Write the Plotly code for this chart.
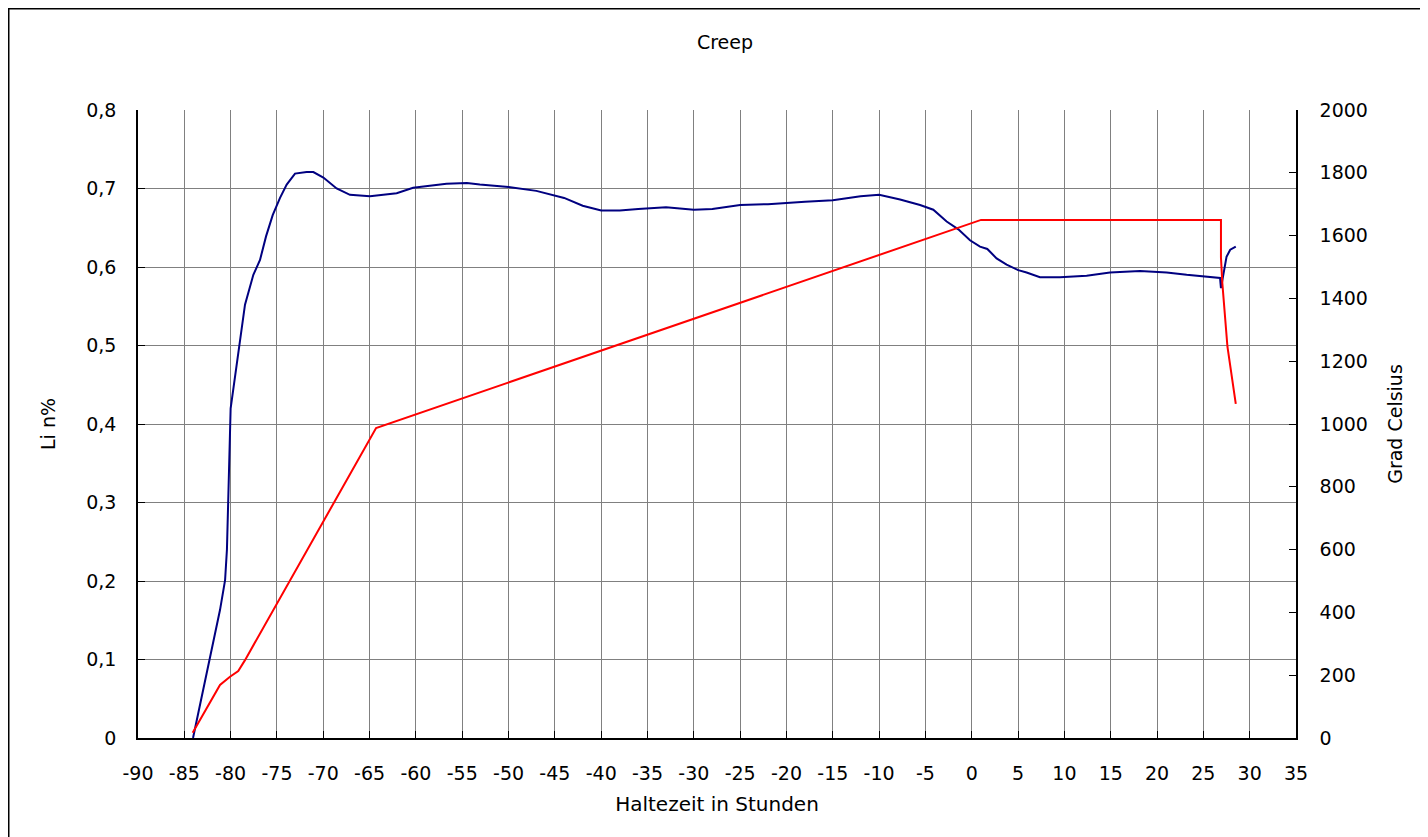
import plotly.graph_objects as go

# Blue series: Li n% vs Haltezeit
li_x = [-84.06, -81.15, -80.6, -80.4, -80.0, -79.4, -79.07, -78.45, -77.55, -76.83, -76.18,
        -75.46, -74.67, -73.95, -73.05, -71.8, -71.07, -69.99, -68.56, -67.12, -64.96,
        -62.08, -60.3, -56.7, -54.5, -53.1, -50.0, -47.0, -44.0, -42.0, -40.0, -38.0,
        -36.0, -33.0, -30.0, -28.0, -25.0, -22.0, -18.0, -15.0, -12.0, -10.0, -7.74,
        -5.58, -4.15, -2.71, -1.45, -0.19, 0.89, 1.68, 2.68, 3.76, 5.02, 5.92, 7.36,
        9.52, 12.4, 14.92, 18.16, 21.04, 23.2, 25.7, 26.8, 26.9, 27.15, 27.5, 27.9, 28.4, 28.5]
li_y = [0.0, 0.163, 0.201, 0.24, 0.42, 0.47, 0.496, 0.552, 0.590, 0.609, 0.639,
        0.666, 0.688, 0.705, 0.719, 0.721, 0.721, 0.714, 0.700, 0.692, 0.690,
        0.694, 0.701, 0.706, 0.707, 0.705, 0.702, 0.697, 0.688, 0.678, 0.672, 0.672,
        0.674, 0.676, 0.673, 0.674, 0.679, 0.680, 0.683, 0.685, 0.690, 0.692, 0.686,
        0.679, 0.673, 0.658, 0.648, 0.634, 0.626, 0.623, 0.611, 0.603, 0.596, 0.593, 0.587,
        0.587, 0.589, 0.593, 0.595, 0.593, 0.590, 0.587, 0.586, 0.573, 0.592, 0.613, 0.622, 0.625, 0.626]

# Red series: Grad Celsius vs Haltezeit
temp_x = [-84.1, -81.15, -80.07, -79.18, -78.45, -64.3, 1.0, 26.9, 26.9, 27.05, 27.6, 28.15, 28.5]
temp_y = [17, 169, 195, 213, 248, 987, 1650, 1650, 1530, 1448, 1246, 1135, 1064]

x_ticks = list(range(-90, 36, 5))
x_tick_labels = [str(v) for v in x_ticks]
font_family = "DejaVu Sans, Verdana, sans-serif"

W, H = 1420, 829
ML, MT, PW, PH = 130, 102, 1158, 628

fig = go.Figure()
fig.add_trace(go.Scatter(x=li_x, y=li_y, mode="lines", name="Li n%",
                         line=dict(color="#000080", width=2)))
fig.add_trace(go.Scatter(x=temp_x, y=temp_y, mode="lines", name="Grad Celsius",
                         yaxis="y2", line=dict(color="#FF0000", width=2)))

fig.update_layout(
    width=W, height=H,
    margin=dict(l=ML, r=W - ML - PW, t=MT, b=H - MT - PH, pad=0),
    paper_bgcolor="white", plot_bgcolor="white",
    separators=", ",
    showlegend=False,
    font=dict(family=font_family, color="black", size=19),
    title=dict(text="Creep", x=717 / W, xanchor="center", y=1 - 34 / H,
               yanchor="middle", font=dict(size=19, color="black")),
    xaxis=dict(range=[-90, 35], tickvals=x_ticks, ticktext=x_tick_labels,
               showgrid=True, gridcolor="#808080",
               gridwidth=1, showline=True, linecolor="black", linewidth=1.5,
               ticks="inside", ticklen=7, tickcolor="black", tickfont=dict(size=19),
               ticklabelstandoff=17, zeroline=False,
               title=dict(text="Haltezeit in Stunden", font=dict(size=20), standoff=14)),
    yaxis=dict(range=[0, 0.8], dtick=0.1, tick0=0, showgrid=True, gridcolor="#808080",
               gridwidth=1, showline=True, linecolor="black", linewidth=1.5,
               ticks="inside", ticklen=7, tickcolor="black", tickfont=dict(size=19),
               ticklabelstandoff=16, zeroline=False,
               title=dict(text="Li n%", font=dict(size=19), standoff=26)),
    yaxis2=dict(range=[0, 2000], dtick=200, tick0=0, overlaying="y", side="right",
                showgrid=False, showline=True, linecolor="black", linewidth=1.5,
                ticks="inside", ticklen=7, tickcolor="black", tickfont=dict(size=19),
                ticklabelstandoff=18, zeroline=False,
                title=dict(text="Grad Celsius", font=dict(size=19), standoff=22)),
    shapes=[dict(type="rect", xref="paper", yref="paper",
                 x0=(0.75 - ML) / PW, x1=(W + 40 - ML) / PW,
                 y0=-(H - MT - PH + 40) / PH, y1=(MT + PH - 0.75) / PH,
                 line=dict(color="black", width=1.5), fillcolor="rgba(0,0,0,0)",
                 layer="below")],
)

fig.write_html("out.html")
